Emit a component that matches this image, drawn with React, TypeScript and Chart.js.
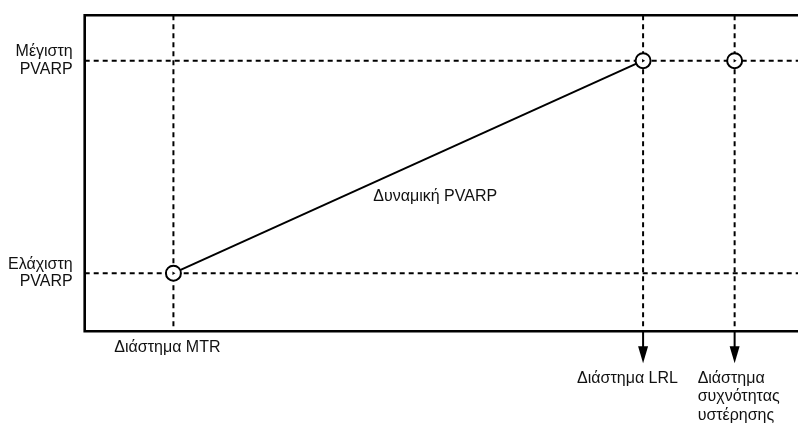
import React, { useEffect, useRef } from "react";
import { Chart, registerables } from "chart.js";
Chart.register(...registerables);

// Schematic values (ms)
const xRange = [207, 1220];
const yRange = [209, 432];
const intervalValues = [333, 1000, 1130]; // MTR, LRL, hysteresis intervals
const pvarpValues = [250, 400]; // min, max PVARP
const dynamicPvarpX = [333, 1000];
const dynamicPvarpY = [250, 400];
const hysteresisPointX = [1130];
const hysteresisPointY = [400];
const arrowIntervals = [1000, 1130];
const yLabels = [
  ["Ελάχιστη", "PVARP"],
  ["Μέγιστη", "PVARP"],
];
const xLabels = [
  ["Διάστημα MTR"],
  ["Διάστημα LRL"],
  ["Διάστημα", "συχνότητας", "υστέρησης"],
];
const lineLabel = "Δυναμική PVARP";

const FONT = "16px 'Liberation Sans', Arial, sans-serif";

const overlayPlugin = {
  id: "overlay",
  afterDatasetsDraw(chart: any) {
    const { ctx, chartArea, scales } = chart;
    const xs = scales.x;
    const ys = scales.y;
    ctx.save();
    // box border (top, left, bottom)
    ctx.strokeStyle = "#000";
    ctx.lineWidth = 2.6;
    ctx.beginPath();
    ctx.moveTo(chart.width + 2, chartArea.top);
    ctx.lineTo(chartArea.left, chartArea.top);
    ctx.lineTo(chartArea.left, chartArea.bottom);
    ctx.lineTo(chart.width + 2, chartArea.bottom);
    ctx.stroke();

    // arrows below axis
    ctx.lineWidth = 2;
    ctx.fillStyle = "#000";
    arrowIntervals.forEach((v) => {
      const px = xs.getPixelForValue(v);
      ctx.beginPath();
      ctx.moveTo(px, chartArea.bottom);
      ctx.lineTo(px, chartArea.bottom + 17);
      ctx.stroke();
      ctx.beginPath();
      ctx.moveTo(px - 5, chartArea.bottom + 15);
      ctx.lineTo(px + 5, chartArea.bottom + 15);
      ctx.lineTo(px, chartArea.bottom + 32);
      ctx.closePath();
      ctx.fill();
    });

    // text
    ctx.font = FONT;
    ctx.fillStyle = "#111";
    ctx.textBaseline = "middle";
    ctx.textAlign = "right";
    pvarpValues.forEach((v, i) => {
      const py = ys.getPixelForValue(v);
      const lines = yLabels[i];
      ctx.fillText(lines[0], chartArea.left - 12, py - 8.8);
      ctx.fillText(lines[1], chartArea.left - 12, py + 8.8);
    });

    ctx.textAlign = "left";
    const lh = 18.5;
    // MTR
    {
      const px = xs.getPixelForValue(intervalValues[0]);
      ctx.textAlign = "center";
      ctx.fillText(xLabels[0][0], px - 6, chartArea.bottom + 16);
      ctx.textAlign = "left";
    }
    // LRL
    {
      const px = xs.getPixelForValue(intervalValues[1]);
      ctx.fillText(xLabels[1][0], px - 66, chartArea.bottom + 47);
    }
    // hysteresis
    {
      const px = xs.getPixelForValue(intervalValues[2]);
      xLabels[2].forEach((t, i) => ctx.fillText(t, px - 37, chartArea.bottom + 47 + i * lh));
    }
    // line label
    {
      const mx = (xs.getPixelForValue(dynamicPvarpX[0]) + xs.getPixelForValue(dynamicPvarpX[1])) / 2;
      const my = (ys.getPixelForValue(dynamicPvarpY[0]) + ys.getPixelForValue(dynamicPvarpY[1])) / 2;
      ctx.fillText(lineLabel, mx - 35, my + 30);
    }
    ctx.restore();
  },
};

export default function App() {
  const ref = useRef<HTMLCanvasElement>(null);
  useEffect(() => {
    document.body.style.margin = "0";
    const dash = [5, 4];
    const dashed = (pts: { x: number; y: number }[]) => ({
      data: pts,
      showLine: true,
      borderColor: "#000",
      borderWidth: 2,
      borderDash: dash,
      pointRadius: 0,
      order: 10,
    });
    const datasets: any[] = [
      {
        data: [
          ...dynamicPvarpX.map((x, i) => ({ x, y: dynamicPvarpY[i] })),
          ...hysteresisPointX.map((x, i) => ({ x, y: hysteresisPointY[i] })),
        ],
        showLine: false,
        pointStyle: "triangle",
        rotation: 90,
        pointRadius: 2,
        pointBorderWidth: 0,
        pointBackgroundColor: "#000",
        order: 0,
      },
      {
        data: dynamicPvarpX.map((x, i) => ({ x, y: dynamicPvarpY[i] })),
        showLine: true,
        borderColor: "#000",
        borderWidth: 2,
        pointRadius: 7.5,
        pointBorderWidth: 2,
        pointBorderColor: "#000",
        pointBackgroundColor: "#fff",
        order: 1,
      },
      {
        data: hysteresisPointX.map((x, i) => ({ x, y: hysteresisPointY[i] })),
        showLine: false,
        pointRadius: 7.5,
        pointBorderWidth: 2,
        pointBorderColor: "#000",
        pointBackgroundColor: "#fff",
        order: 1,
      },
      ...pvarpValues.map((v) => dashed([{ x: xRange[0], y: v }, { x: xRange[1], y: v }])),
      ...intervalValues.map((v) => dashed([{ x: v, y: yRange[1] }, { x: v, y: yRange[0] }])),
    ];
    const chart = new Chart(ref.current!, {
      type: "scatter",
      data: { datasets },
      options: {
        responsive: false,
        animation: false,
        devicePixelRatio: 1,
        layout: { autoPadding: false, padding: { left: 84.7, top: 15.3, right: 0, bottom: 423 - 331.3 } },
        plugins: { legend: { display: false }, tooltip: { enabled: false } },
        scales: {
          x: { type: "linear", display: false, min: xRange[0], max: xRange[1] },
          y: { type: "linear", display: false, min: yRange[0], max: yRange[1] },
        },
      },
      plugins: [overlayPlugin],
    });
    return () => chart.destroy();
  }, []);
  return (
    <div style={{ position: "absolute", left: 0, top: 0, width: 798, height: 423, background: "#fff" }}>
      <canvas ref={ref} width={798} height={423} style={{ display: "block" }} />
    </div>
  );
}
